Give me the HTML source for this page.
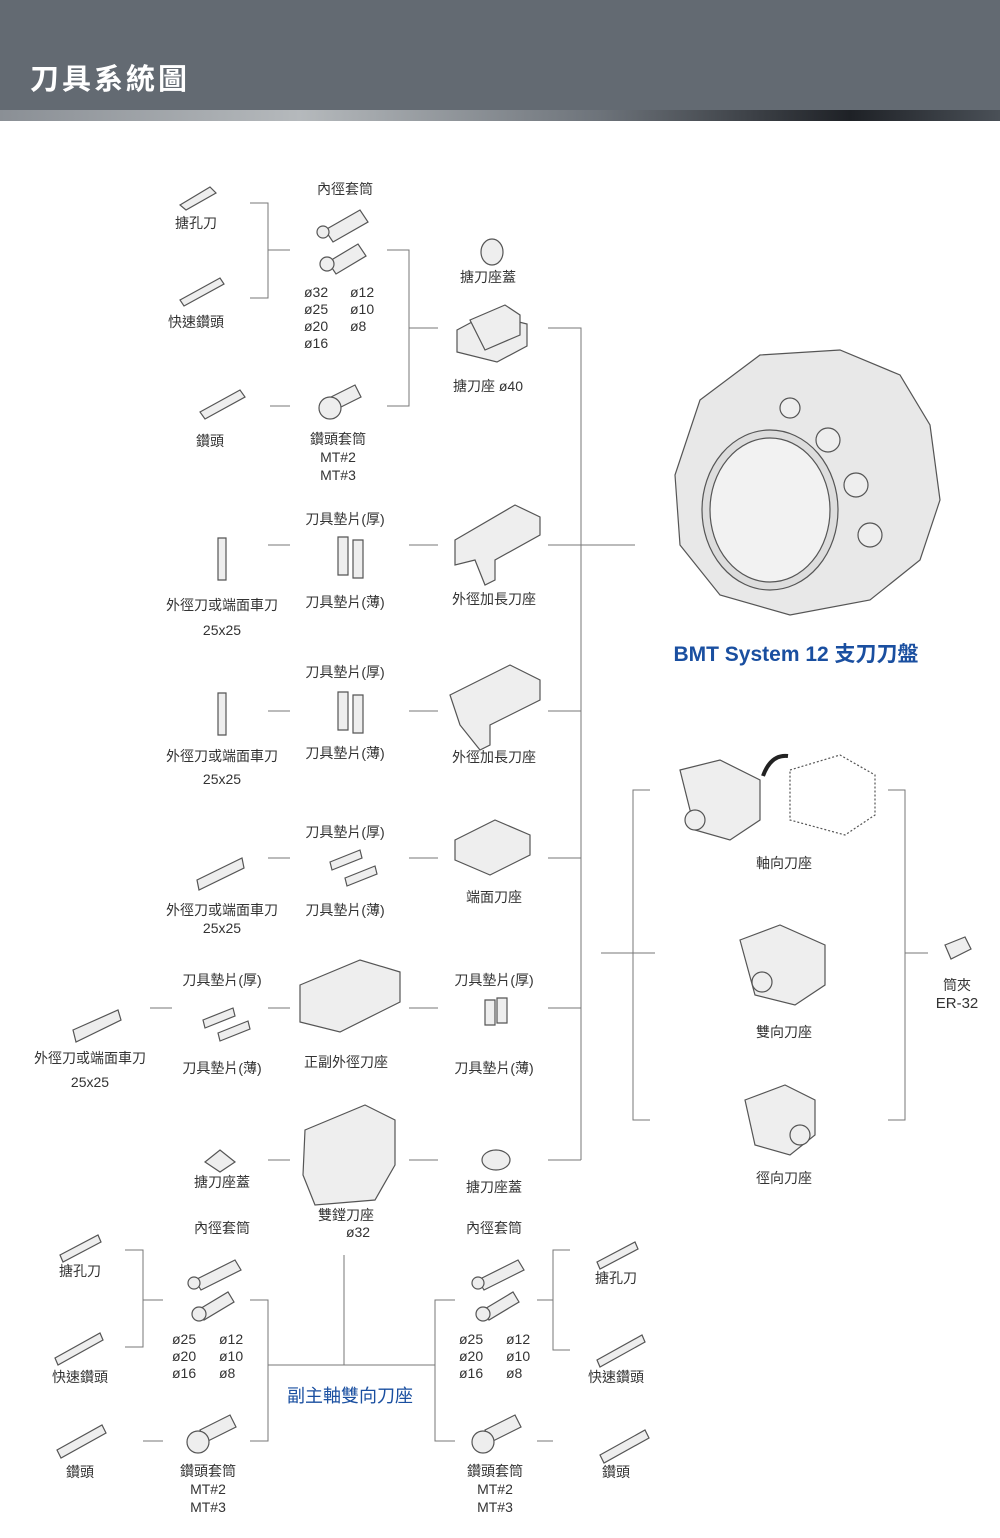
<!DOCTYPE html>
<html><head><meta charset="utf-8"><style>
body{margin:0;width:1000px;height:1538px;background:#fff;overflow:hidden}
svg{display:block}
text{font-family:"Liberation Sans","Noto Sans CJK TC",sans-serif;font-size:14px;fill:#333}
</style></head><body>
<svg width="1000" height="1538" viewBox="0 0 1000 1538">
<defs>
<linearGradient id="g" x1="0" x2="1"><stop offset="0" stop-color="#8a8f95"/><stop offset="0.3" stop-color="#b5b9bc"/><stop offset="0.6" stop-color="#6d737a"/><stop offset="0.85" stop-color="#1e2126"/><stop offset="1" stop-color="#4a5057"/></linearGradient>
</defs>
<rect x="0" y="0" width="1000" height="110" fill="#636a72"/>
<rect x="0" y="110" width="1000" height="11" fill="url(#g)"/>
<text x="30" y="89" style="font-size:29px;font-weight:bold;fill:#fff;letter-spacing:3px">刀具系統圖</text>

<g stroke="#777" stroke-width="1" fill="none">
<!-- top group -->
<path d="M250 203H268V298H250M268 250H290M270 406H290"/>
<path d="M387 250H409V406H387M409 328H438"/>
<path d="M548 328H581V1160M548 545H635M548 711H581M548 858H581M548 1008H581M548 1160H581"/>
<path d="M268 545H290M409 545H438M268 711H290M409 711H438M268 858H290M409 858H438"/>
<path d="M150 1008H172M268 1008H290M409 1008H438"/>
<path d="M268 1160H290M409 1160H438"/>
<!-- bottom group -->
<path d="M125 1250H143V1347H125M143 1300H163M143 1441H163"/>
<path d="M250 1300H268V1441H250M268 1365H435M344 1255V1365"/>
<path d="M455 1300H435V1441H455"/>
<path d="M570 1250H553V1350H570M537 1300H553M537 1441H553"/>
<!-- right group -->
<path d="M650 790H633V1120H650M601 953H655"/>
<path d="M888 790H905V1120H888M905 953H928"/>
</g>

<!-- illustrations: simplified -->
<g fill="#eee" stroke="#555" stroke-width="1.2">
<path d="M180 205l30-18 6 6-30 17z"/><path d="M180 300l40-22 4 6-40 22z"/>
<path d="M200 412l40-22 5 7-40 22z"/>
<path d="M325 230l35-20 8 12-35 20z"/><circle cx="323" cy="232" r="6"/>
<path d="M328 262l30-18 8 12-30 18z"/><circle cx="327" cy="264" r="7"/>
<path d="M325 400l30-15 6 12-30 15z"/><circle cx="330" cy="408" r="11"/>
<ellipse cx="492" cy="252" rx="11" ry="13"/>
<path d="M457 330l30-16 40 10v22l-30 16-40-10z"/><path d="M470 320l35-15 15 10v20l-35 15z"/>
<!-- disk -->
<path d="M700 400l60-45 80-5 60 25 30 50 10 75-20 60-50 40-80 15-70-20-40-50-5-70z" fill="#e8e8e8"/>
<ellipse cx="770" cy="510" rx="68" ry="80" fill="#ddd"/>
<ellipse cx="770" cy="510" rx="60" ry="72" fill="#f2f2f2"/>
<circle cx="790" cy="408" r="10"/><circle cx="828" cy="440" r="12"/><circle cx="856" cy="485" r="12"/><circle cx="870" cy="535" r="12"/>
<!-- tools rows -->
<path d="M218 538h8v42h-8z"/><path d="M338 537h10v38h-10zM353 540h10v38h-10z"/>
<path d="M455 540l60-35 25 12v18l-45 25v20l-10 5-10-25-20 5z"/>
<path d="M218 693h8v42h-8z"/><path d="M338 692h10v38h-10zM353 695h10v38h-10z"/>
<path d="M450 695l60-30 30 15v20l-50 25v20l-10 5-20-25z"/>
<path d="M197 880l45-22 2 10-45 22z"/><path d="M330 862l30-12 2 8-30 12zM345 878l30-12 2 8-30 12z"/>
<path d="M455 840l40-20 35 15v20l-40 20-35-15z"/>
<path d="M73 1030l45-20 3 10-45 22z"/><path d="M203 1020l30-12 2 8-30 12zM218 1033l30-12 2 8-30 12z"/>
<path d="M300 985l60-25 40 12v30l-60 30-40-10z"/><path d="M485 1000h10v25h-10zM497 998h10v25h-10z"/>
<path d="M205 1162l15-12 15 12-15 10z"/><path d="M305 1130l60-25 30 15v45l-20 35-60 5-12-30z"/>
<ellipse cx="496" cy="1160" rx="14" ry="10"/>
<!-- right holders -->
<path d="M680 770l40-10 40 20v40l-30 20-35-10z"/><circle cx="695" cy="820" r="10"/>
<path d="M790 770l50-15 35 20v40l-30 20-55-15z" fill="none" stroke-dasharray="2 2"/>
<path d="M763 776q8-22 25-20" stroke="#222" stroke-width="4" fill="none"/>
<path d="M740 940l40-15 45 20v40l-30 20-40-10z"/><circle cx="762" cy="982" r="10"/>
<path d="M745 1100l40-15 30 15v35l-25 20-35-10z"/><circle cx="800" cy="1135" r="10"/>
<path d="M945 945l20-8 6 12-20 10z"/>
<!-- bottom tools -->
<path d="M60 1255l38-20 3 7-38 20z"/><path d="M55 1358l45-25 3 7-45 25z"/><path d="M57 1450l45-25 4 8-45 25z"/>
<path d="M195 1280l40-20 6 10-40 20z"/><circle cx="194" cy="1283" r="6"/>
<path d="M198 1310l30-18 6 10-30 18z"/><circle cx="199" cy="1314" r="7"/>
<path d="M200 1430l30-15 6 12-30 15z"/><circle cx="198" cy="1442" r="11"/>
<path d="M478 1280l40-20 6 10-40 20z"/><circle cx="478" cy="1283" r="6"/>
<path d="M483 1310l30-18 6 10-30 18z"/><circle cx="483" cy="1314" r="7"/>
<path d="M485 1430l30-15 6 12-30 15z"/><circle cx="483" cy="1442" r="11"/>
<path d="M597 1262l38-20 3 7-38 20z"/><path d="M597 1360l45-25 3 7-45 25z"/><path d="M600 1455l45-25 4 8-45 25z"/>
</g>

<g text-anchor="middle">
<text x="345" y="194">內徑套筒</text>
<text x="196" y="228">搪孔刀</text>
<text x="196" y="327">快速鑽頭</text>
<text x="210" y="446">鑽頭</text>
<text x="488" y="282">搪刀座蓋</text>
<text x="488" y="391">搪刀座 ø40</text>
<text x="338" y="444">鑽頭套筒</text>
<text x="338" y="462">MT#2</text>
<text x="338" y="480">MT#3</text>
<text x="345" y="524">刀具墊片(厚)</text>
<text x="222" y="610">外徑刀或端面車刀</text>
<text x="222" y="635">25x25</text>
<text x="345" y="607">刀具墊片(薄)</text>
<text x="494" y="604">外徑加長刀座</text>
<text x="345" y="677">刀具墊片(厚)</text>
<text x="222" y="761">外徑刀或端面車刀</text>
<text x="222" y="784">25x25</text>
<text x="345" y="758">刀具墊片(薄)</text>
<text x="494" y="762">外徑加長刀座</text>
<text x="345" y="837">刀具墊片(厚)</text>
<text x="222" y="915">外徑刀或端面車刀</text>
<text x="222" y="933">25x25</text>
<text x="345" y="915">刀具墊片(薄)</text>
<text x="494" y="902">端面刀座</text>
<text x="222" y="985">刀具墊片(厚)</text>
<text x="494" y="985">刀具墊片(厚)</text>
<text x="90" y="1063">外徑刀或端面車刀</text>
<text x="90" y="1087">25x25</text>
<text x="222" y="1073">刀具墊片(薄)</text>
<text x="346" y="1067">正副外徑刀座</text>
<text x="494" y="1073">刀具墊片(薄)</text>
<text x="222" y="1187">搪刀座蓋</text>
<text x="494" y="1192">搪刀座蓋</text>
<text x="346" y="1220">雙鏜刀座</text>
<text x="358" y="1237">ø32</text>
<text x="222" y="1233">內徑套筒</text>
<text x="494" y="1233">內徑套筒</text>
<text x="80" y="1276">搪孔刀</text>
<text x="80" y="1382">快速鑽頭</text>
<text x="80" y="1477">鑽頭</text>
<text x="616" y="1283">搪孔刀</text>
<text x="616" y="1382">快速鑽頭</text>
<text x="616" y="1477">鑽頭</text>
<text x="208" y="1476">鑽頭套筒</text>
<text x="208" y="1494">MT#2</text>
<text x="208" y="1512">MT#3</text>
<text x="495" y="1476">鑽頭套筒</text>
<text x="495" y="1494">MT#2</text>
<text x="495" y="1512">MT#3</text>
<text x="350" y="1402" style="font-size:18px;fill:#1a4fa0">副主軸雙向刀座</text>
<text x="784" y="868">軸向刀座</text>
<text x="784" y="1037">雙向刀座</text>
<text x="784" y="1183">徑向刀座</text>
<text x="957" y="990">筒夾</text>
<text x="957" y="1008" style="font-size:15px">ER-32</text>
<text x="796" y="661" style="font-size:21px;font-weight:bold;fill:#1a4fa0">BMT System 12 支刀刀盤</text>
</g>
<g>
<text x="304" y="297">ø32</text><text x="350" y="297">ø12</text>
<text x="304" y="314">ø25</text><text x="350" y="314">ø10</text>
<text x="304" y="331">ø20</text><text x="350" y="331">ø8</text>
<text x="304" y="348">ø16</text>
<text x="172" y="1344">ø25</text><text x="219" y="1344">ø12</text>
<text x="172" y="1361">ø20</text><text x="219" y="1361">ø10</text>
<text x="172" y="1378">ø16</text><text x="219" y="1378">ø8</text>
<text x="459" y="1344">ø25</text><text x="506" y="1344">ø12</text>
<text x="459" y="1361">ø20</text><text x="506" y="1361">ø10</text>
<text x="459" y="1378">ø16</text><text x="506" y="1378">ø8</text>
</g>
</svg>
</body></html>
